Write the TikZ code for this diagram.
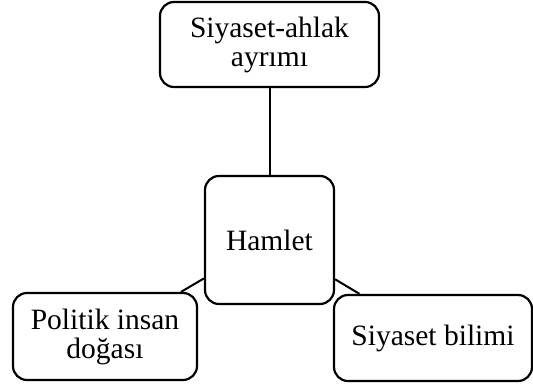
\documentclass[tikz,border=0pt]{standalone}
\usepackage{fontspec}
\setmainfont{Liberation Serif}
\usepackage{tikz}
\usetikzlibrary{positioning}

\begin{document}
\begin{tikzpicture}[x=1pt, y=1pt,
    konu/.style={draw, line width=2.2pt, rounded corners=14pt, align=center,
        inner sep=0pt, font=\fontsize{29.5}{29}\selectfont},
    bag/.style={line width=2pt}]
\useasboundingbox (0,0) rectangle (533,390);

    \node[konu, minimum width=129, minimum height=128] (hamlet) at (269.5,150) {Hamlet};
    \node[konu, minimum width=219, minimum height=85] (ayrim) at (269.5,345.5) {Siyaset-ahlak\\ayrımı};
    \node[konu, minimum width=184, minimum height=87] (politik) at (105,53.5) {Politik insan\\doğası};
    \node[konu, minimum width=198, minimum height=86] (bilim) at (433,52) {Siyaset bilimi};

    \foreach \n in {ayrim, politik, bilim}
    \draw [bag] (hamlet)--(\n);

\end{tikzpicture}
\end{document}
